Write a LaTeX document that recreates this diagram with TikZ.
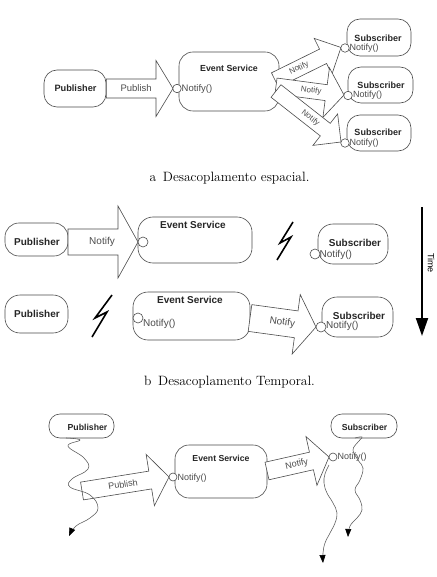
\documentclass[tikz,border=0pt]{standalone}
\usepackage{fontspec}
\newfontfamily\dsans{Liberation Sans}
\usetikzlibrary{calc,arrows.meta}
\tikzset{
  ln/.style={draw=black!70, line width=0.6pt},
  rbox/.style={ln, rounded corners=#1, inner sep=0pt},
  port/.style={circle, ln, fill=white, inner sep=0pt, minimum size=#1},
  ttl/.style={font=\dsans\bfseries\fontsize{#1}{#1}\selectfont, text=black!85, inner sep=0pt},
  sig/.style={font=\dsans\fontsize{#1}{#1}\selectfont, text=black!70, inner sep=0pt},
  arrowbox/.style={ln, fill=white, line join=miter},
  bolt/.style={draw=black, line width=1.6pt, line join=miter},
  wave/.style={draw=black!65, line width=0.55pt, -{Triangle[length=8pt,width=6pt,black]}},
  captxt/.style={font=\fontsize{13.5}{15}\selectfont, inner sep=0pt},
}
% #1 from, #2 to, #3 shaft half width, #4 head half width, #5 head length
\newcommand{\blockarrow}[5]{%
  \coordinate (bn) at ($(#2)!#5!(#1)$);
  \draw[arrowbox] ($(#1)!#3!90:(#2)$) -- ($(bn)!#3!-90:(#1)$) -- ($(bn)!#4!-90:(#1)$) -- (#2)
     -- ($(bn)!#4!90:(#1)$) -- ($(bn)!#3!90:(#1)$) -- ($(#1)!#3!-90:(#2)$) -- cycle;
}
% #1 from, #2 to, #3 head length, #4 label, #5 pos, #6 size
\newcommand{\arrowlabel}[6]{%
  \coordinate (bl) at ($(#2)!#3!(#1)$);
  \path (#1) -- (bl) node[pos=#5, sloped, sig=#6] {#4};
}
\begin{document}
\begin{tikzpicture}[x=1pt,y=-1pt]
\useasboundingbox (0,0) rectangle (436,577);
\fill[white] (0,0) rectangle (436,577);

% ================= Panel a =================
\node[rbox=13pt, minimum width=62pt, minimum height=37pt] (pubA) at (75,88.5) {};
\node[rbox=14pt, minimum width=100pt, minimum height=59pt] (esA) at (229,81.5) {};
\node[rbox=13pt, minimum width=64pt, minimum height=37pt] (subA1) at (379,37.5) {};
\node[rbox=13pt, minimum width=65pt, minimum height=36pt] (subA2) at (380.5,85) {};
\node[rbox=13pt, minimum width=64pt, minimum height=36pt] (subA3) at (379,133) {};

\coordinate (cA0) at (177,88.5);
\coordinate (cA1) at (345,48);
\coordinate (cA2) at (348,95.5);
\coordinate (cA3) at (345,143);
\coordinate (aA1) at (275,80);
\coordinate (aA2) at (276,86);
\coordinate (aA3) at (276,91);
\coordinate (tA1) at (341,47.5);
\coordinate (tA2) at (344,95);
\coordinate (tA3) at (341,142);
\coordinate (tA0) at (173,88.5);

\blockarrow{pubA.east}{tA0}{9.5pt}{28pt}{17pt}
\arrowlabel{pubA.east}{tA0}{17pt}{Publish}{0.6}{9.5}
\blockarrow{aA1}{tA1}{8pt}{20pt}{20pt}
\blockarrow{aA2}{tA2}{8pt}{25pt}{18pt}
\blockarrow{aA3}{tA3}{8pt}{20pt}{20pt}
\arrowlabel{aA1}{tA1}{20pt}{Notify}{0.5}{8}
\arrowlabel{aA2}{tA2}{18pt}{Notify}{0.7}{8}
\arrowlabel{aA3}{tA3}{20pt}{Notify}{0.7}{8}

\node[port=8.5pt] (pA0) at (cA0) {};
\node[port=8.5pt] (pA1) at (cA1) {};
\node[port=8.5pt] (pA2) at (cA2) {};
\node[port=8.5pt] (pA3) at (cA3) {};

\node[ttl=9.2] (tPubA) at (75.5,88.5) {Publisher};
\node[ttl=8.8] (tEsA) at (229,68) {Event Service};
\node[sig=9.5, anchor=west] (nEsA) at (181.5,89) {Notify()};
\node[ttl=9] (tSubA1) at (378,38) {Subscriber};
\node[sig=9, anchor=west] (nSubA1) at (349.5,48) {Notify()};
\node[ttl=9] (tSubA2) at (381,85) {Subscriber};
\node[sig=9, anchor=west] (nSubA2) at (353,95.5) {Notify()};
\node[ttl=9] (tSubA3) at (378,132) {Subscriber};
\node[sig=9, anchor=west] (nSubA3) at (349.5,143) {Notify()};

\node[captxt] (capA) at (229.5,178) {a\enspace Desacoplamento espacial.};

% ================= Panel b =================
\node[rbox=14pt, minimum width=63pt, minimum height=33pt] (pubB1) at (36.5,239.5) {};
\node[rbox=15pt, minimum width=114pt, minimum height=46pt] (esB1) at (195,240) {};
\node[rbox=15pt, minimum width=70pt, minimum height=40pt] (subB1) at (353,244) {};
\node[rbox=15pt, minimum width=63pt, minimum height=38pt] (pubB2) at (36.5,314) {};
\node[rbox=15pt, minimum width=117pt, minimum height=48pt] (esB2) at (191.5,316) {};
\node[rbox=15pt, minimum width=71pt, minimum height=40pt] (subB2) at (357.5,317) {};

\coordinate (aB1) at (68,242);
\coordinate (tB1) at (138,242);
\coordinate (aB2) at (250,318);
\coordinate (tB2) at (316,327);
\blockarrow{aB1}{tB1}{13pt}{36pt}{20pt}
\arrowlabel{aB1}{tB1}{20pt}{Notify}{0.68}{10}
\blockarrow{aB2}{tB2}{13.5pt}{30pt}{20pt}
\arrowlabel{aB2}{tB2}{20pt}{Notify}{0.7}{10}

\node[port=10pt] (pB1) at (143,242) {};
\node[port=10pt] (pB1s) at (315,254) {};
\node[port=10pt] (pB2) at (138,318) {};
\node[port=10pt] (pB2s) at (321,327) {};

\node[ttl=10] (tPubB1) at (37,242) {Publisher};
\node[ttl=10] (tEsB1) at (193,224.5) {Event Service};
\node[ttl=10] (tSubB1) at (355,243) {Subscriber};
\node[sig=10, anchor=west] (nSubB1) at (319.5,254.5) {Notify()};
\node[ttl=10] (tPubB2) at (37,314) {Publisher};
\node[ttl=10] (tEsB2) at (190,299.5) {Event Service};
\node[sig=10, anchor=west] (nEsB2) at (143,324) {Notify()};
\node[ttl=10] (tSubB2) at (359,315.5) {Subscriber};
\node[sig=10, anchor=west] (nSubB2) at (326,325.5) {Notify()};

\draw[bolt] (293,222) -- (280,243) -- (291,237) -- (277,260);
\draw[bolt] (112,295) -- (95,318) -- (107,312) -- (92,337);

\coordinate (time0) at (422,207);
\coordinate (time1) at (422,336);
\draw[line width=2pt, -{Triangle[length=18pt,width=12pt]}] (time0) -- (time1);
\node[font=\dsans\fontsize{9}{9}\selectfont, rotate=-90, inner sep=0pt] (timeL) at (431,263) {Time};

\node[captxt] (capB) at (229.5,382) {b\enspace Desacoplamento Temporal.};

% ================= Panel c =================
\node[rbox=11pt, minimum width=65pt, minimum height=24pt] (pubC) at (81.5,426) {};
\node[rbox=11pt, minimum width=66pt, minimum height=24pt] (subC) at (364,426) {};
\node[rbox=14pt, minimum width=92pt, minimum height=53pt] (esC) at (221,471.5) {};

\coordinate (aC1) at (82,491);
\coordinate (tC1) at (169,477);
\coordinate (aC2) at (267,471);
\coordinate (tC2) at (329,457);
\blockarrow{aC1}{tC1}{9pt}{26pt}{19pt}
\arrowlabel{aC1}{tC1}{19pt}{Publish}{0.6}{9}
\blockarrow{aC2}{tC2}{9pt}{25pt}{18pt}
\arrowlabel{aC2}{tC2}{18pt}{Notify}{0.67}{9}

\node[port=8pt] (pC1) at (173,477) {};
\node[port=8pt] (pC2) at (333,457) {};

\node[ttl=8.7] (tPubC) at (87.5,427) {Publisher};
\node[ttl=8.7] (tSubC) at (364.5,427) {Subscriber};
\node[ttl=8.7] (tEsC) at (221,458) {Event Service};
\node[sig=9, anchor=west] (nEsC) at (177.5,478) {Notify()};
\node[sig=9, anchor=west] (nSubC) at (337.5,457.5) {Notify()};

\draw[wave] plot[smooth, tension=0.7] coordinates {(66,438) (80,440) (68,446) (84,458) (88,469) (72,479) (70,487) (90,495) (98,508) (90,518) (76,526) (69,536)};
\draw[wave] plot[smooth, tension=0.7] coordinates {(329,465) (325,474) (324,483) (327,493) (333,503) (337,513) (335,523) (330,533) (325,543) (323,553) (323,563)};
\draw[wave] plot[smooth, tension=0.7] coordinates {(355,438) (362,437) (358,442) (353,450) (358,460) (363,468) (360,480) (355,490) (360,500) (362,510) (357,518) (350,526) (348,537)};
\end{tikzpicture}
\end{document}
